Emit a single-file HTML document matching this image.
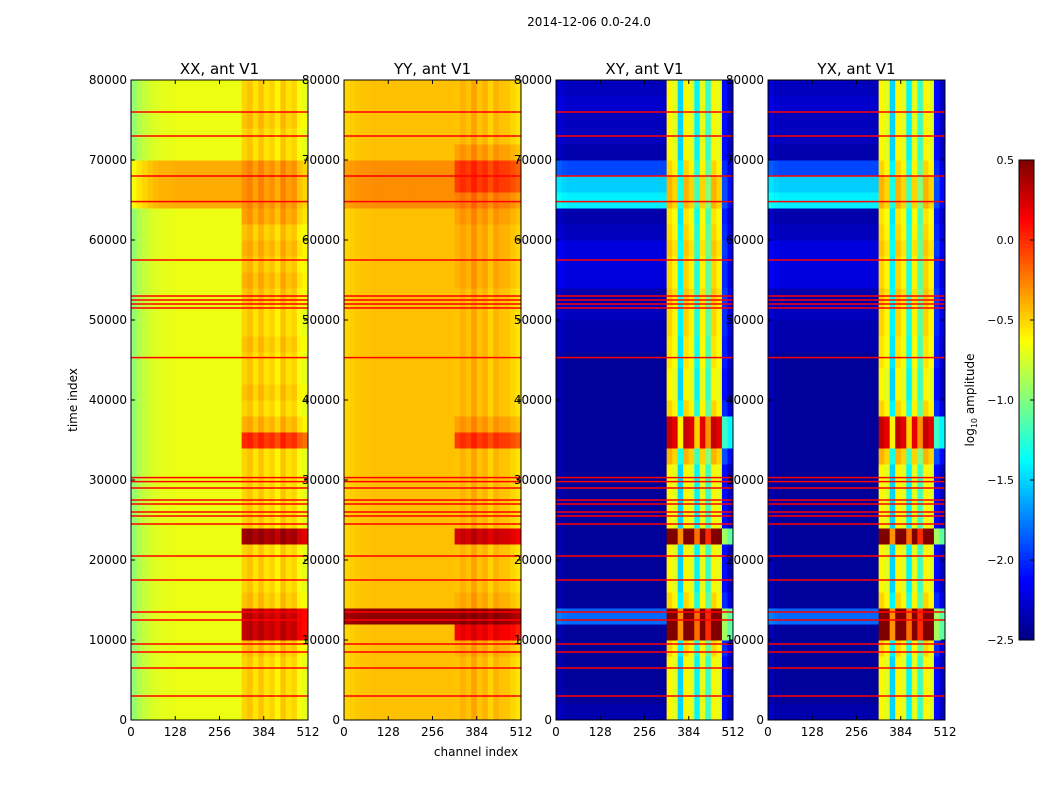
<!DOCTYPE html>
<html><head><meta charset="utf-8"><style>
body{margin:0;background:#fff;}
svg{display:block;font-family:"DejaVu Sans","Liberation Sans",sans-serif;}
</style></head><body>
<svg id="fig" width="1050" height="800" xmlns="http://www.w3.org/2000/svg">
<text x="589" y="26" font-size="12" text-anchor="middle">2014-12-06 0.0-24.0</text>
<text x="476" y="756" font-size="12" text-anchor="middle">channel index</text>
<text transform="translate(77,400) rotate(-90)" font-size="12" text-anchor="middle">time index</text>
<text transform="translate(974,400) rotate(-90)" font-size="12" text-anchor="middle">log<tspan font-size="8" dy="3">10</tspan><tspan dy="-3"> amplitude</tspan></text>
</svg>
<script>
const titles=["XX, ant V1","YY, ant V1","XY, ant V1","YX, ant V1"];
const xTicks=[0,128,256,384,512];
const yTicks=[0,10000,20000,30000,40000,50000,60000,70000,80000];
const cbTicks=[0.5,0.0,-0.5,-1.0,-1.5,-2.0,-2.5];
const flagRows=[3000,6500,8500,9500,12500,13500,17500,20500,24500,25500,26000,27000,27500,29000,29800,30300,45300,51500,52000,52500,53000,57500,64800,68000,73000,76000];
const xxCol=[-0.95,-0.85,-0.8,-0.75,-0.72,-0.7,-0.7,-0.69,-0.68,-0.68,-0.68,-0.68,-0.68,-0.68,-0.68,-0.68,-0.68,-0.68,-0.68,-0.68,-0.5,-0.45,-0.55,-0.45,-0.55,-0.5,-0.6,-0.45,-0.55,-0.5,-0.65,-0.7];
const xxLeft=[0,0,0,0,0,0,0,0,0,0,0,0,0,0,0,0,0,0,0,0,0,0,0,0,0,0,0,0,0,0,0,0,0.3,0.3,0.3,0,0,0,0,0];
const xxRight=[0,0,0,0,0.05,0.8,0.8,0.05,0,0,0,0.9,0,0,0,0,0,0.5,0.1,0,0.05,0,0,0.05,0,0,0.05,0.1,0.05,0.1,0.05,0.15,0.2,0.2,0.2,0,0,0.05,0,0];
const yyCol=[-0.5,-0.48,-0.46,-0.45,-0.45,-0.44,-0.44,-0.44,-0.44,-0.44,-0.44,-0.44,-0.44,-0.44,-0.44,-0.44,-0.44,-0.44,-0.44,-0.44,-0.45,-0.4,-0.45,-0.35,-0.45,-0.4,-0.5,-0.4,-0.45,-0.45,-0.5,-0.55];
const yyLeft=[0,0,0,0,0,0,0.9,0,0,0,0,0,0,0,0,0,0,0,0,0,0,0,0,0,0,0,0,0,0,0,0,0,0.15,0.15,0.15,0,0,0,0,0];
const yyRight=[0,0,0,0,0.05,0.6,0.9,0.05,0,0,0,0.7,0,0,0,0,0,0.4,0.1,0,0,0,0,0,0,0,0,0.05,0.05,0.05,0.05,0.1,0.2,0.4,0.4,0.1,0,0,0,0];
const xyCol=[-2.35,-2.4,-2.42,-2.42,-2.42,-2.42,-2.42,-2.42,-2.42,-2.42,-2.42,-2.42,-2.42,-2.42,-2.42,-2.42,-2.42,-2.42,-2.42,-2.42,-0.6,-0.7,-1.5,-0.6,-0.7,-1.4,-0.7,-1.2,-0.6,-0.7,-2.1,-2.3];
const xyLeft=[0.05,0,0,0,0,0,0.6,0,0,0,0,0,0,0,0,0,0,0,0,0,0,0,0,0.05,0.05,0.1,0.05,0.2,0.2,0.2,0.1,0.05,1.0,0.9,0.5,0.05,0.1,0.1,0.15,0.1];
const xyRight=[0,0,0,0,0.1,1.2,1.2,0.1,0,0,0,1.2,0,0,0,0,0.2,0.9,0.9,0.1,0,0,0.05,0.05,0.1,0.1,0.15,0.1,0.1,0.15,0.1,0.05,0.2,0.2,0.1,0,0,0,0,0];
const yxCol=[-2.35,-2.4,-2.42,-2.42,-2.42,-2.42,-2.42,-2.42,-2.42,-2.42,-2.42,-2.42,-2.42,-2.42,-2.42,-2.42,-2.42,-2.42,-2.42,-2.42,-0.6,-0.7,-1.5,-0.6,-0.7,-1.4,-0.7,-1.2,-0.6,-0.7,-2.1,-2.3];
const yxLeft=[0.05,0,0,0,0,0,0.6,0,0,0,0,0,0,0,0,0,0,0,0,0,0,0,0,0.05,0.05,0.1,0.05,0.2,0.2,0.2,0.1,0.05,1.0,0.9,0.5,0.05,0.1,0.1,0.15,0.1];
const yxRight=[0,0,0,0,0.1,1.2,1.2,0.1,0,0,0,1.2,0,0,0,0,0.2,0.9,0.9,0.1,0,0,0.05,0.05,0.1,0.1,0.15,0.1,0.1,0.15,0.1,0.05,0.2,0.2,0.1,0,0,0,0,0];
const panelCols=[xxCol,yyCol,xyCol,yxCol],panelLeft=[xxLeft,yyLeft,xyLeft,yxLeft],panelRight=[xxRight,yyRight,xyRight,yxRight];

const NS="http://www.w3.org/2000/svg",fig=document.getElementById('fig');
function mk(t,a,p){const e=document.createElementNS(NS,t);for(const k in a)e.setAttribute(k,a[k]);(p||fig).appendChild(e);return e;}
function jet(v){let t=(v+2.5)/3;t=Math.max(0,Math.min(1,t));
 const f=x=>Math.round(255*Math.max(0,Math.min(1,1.5-Math.abs(4*t-x))));return `rgb(${f(3)},${f(2)},${f(1)})`;}
const X0=[131,344,556,768],W=177,Y0=80,H=640;
for(let p=0;p<4;p++){
 const sx=c=>X0[p]+c/512*W, sy=t=>Y0+H-t/80000*H;
 const g=mk('g',{});
 
 
 const cols=panelCols[p],L=panelLeft[p],R=panelRight[p];
 for(let r=0;r<L.length;r++)for(let c=0;c<cols.length;c++){
  const v=cols[c]+(c>=20?R[r]:L[r]);
  const x1=sx(c*16),x2=sx((c+1)*16),y1=sy((r+1)*2000),y2=sy(r*2000);
  const e=mk('rect',{x:x1,y:y1,width:x2-x1+0.5,height:y2-y1+0.5,fill:jet(v)},g);
  
  
 }
 flagRows.forEach(t=>{const e=mk('rect',{x:X0[p],y:sy(t)-0.75,width:W,height:1.5,fill:'#f00'},g);
  
  });
 const fr=mk('rect',{x:X0[p],y:Y0,width:W,height:H,fill:'none',stroke:'#000','stroke-width':1});
 
 
 const tt=mk('text',{x:X0[p]+W/2,y:74,'font-size':15,'text-anchor':'middle'});tt.textContent=titles[p];
 
 
 xTicks.forEach(v=>{const x=sx(v);mk('line',{x1:x,x2:x,y1:Y0+H,y2:Y0+H-4,stroke:'#000'});mk('line',{x1:x,x2:x,y1:Y0,y2:Y0+4,stroke:'#000'});
  const l=mk('text',{x:x,y:Y0+H+16,'font-size':12,'text-anchor':'middle'});l.textContent=v;
  
  });
 yTicks.forEach(v=>{const y=sy(v);mk('line',{x1:X0[p],x2:X0[p]+4,y1:y,y2:y,stroke:'#000'});mk('line',{x1:X0[p]+W,x2:X0[p]+W-4,y1:y,y2:y,stroke:'#000'});
  const l=mk('text',{x:X0[p]-4,y:y+4,'font-size':12,'text-anchor':'end'});l.textContent=v;
  
  });
}
const cb=mk('g',{});


for(let i=0;i<120;i++){const v=-2.5+3*(i+0.5)/120;mk('rect',{x:1019,y:640-(i+1)*4,width:15,height:4.5,fill:jet(v)},cb);}
mk('rect',{x:1019,y:160,width:15,height:480,fill:'none',stroke:'#000'},cb);
cbTicks.forEach(v=>{const y=640-(v+2.5)/3*480;mk('line',{x1:1030,x2:1034,y1:y,y2:y,stroke:'#000'},cb);
 const l=mk('text',{x:1014,y:y+4,'font-size':11,'text-anchor':'end'},cb);l.textContent=(v<0?'\u2212':'')+Math.abs(v).toFixed(1);
 
 });
</script>
</body></html>
